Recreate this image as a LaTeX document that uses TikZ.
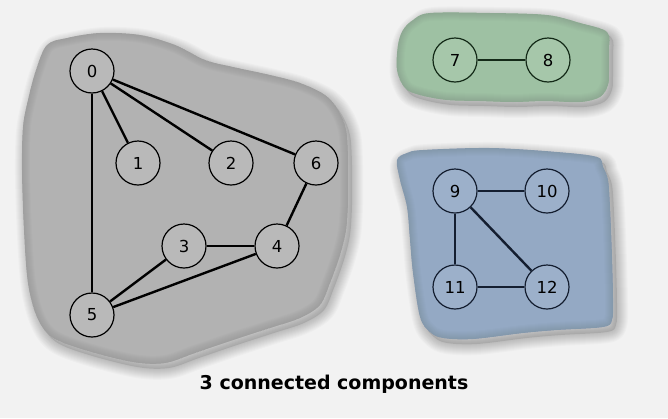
\documentclass[tikz,border=0pt]{standalone}
\usepackage{fontspec}
\setmainfont{DejaVu Sans}

\definecolor{bgc}{HTML}{F2F2F2}
\definecolor{grayblob}{HTML}{B2B2B2}
\definecolor{grayvtx}{HTML}{B9B9B9}
\definecolor{greenblob}{HTML}{9EC1A3}
\definecolor{greenvtx}{HTML}{A6C7AA}
\definecolor{greenline}{HTML}{142A18}
\definecolor{blueblob}{HTML}{94A9C4}
\definecolor{bluevtx}{HTML}{9CB0CA}
\definecolor{blueline}{HTML}{141E30}

\tikzset{
  grayshape/.style={insert path={plot[smooth cycle, tension=0.55] coordinates {
    (47,45) (67,38) (100,33) (140,35) (175,45) (205,60) (233,67) (270,75)
    (300,83) (325,95) (338,110) (346,130) (348,160) (348,200) (346,230)
    (340,255) (330,283) (320,305) (300,318) (270,328) (233,340) (195,353)
    (165,363) (133,362) (85,350) (52,337) (37,317) (28,283) (24,230)
    (22,170) (23,127) (28,100) (36,70)}}},
  greenshape/.style={insert path={plot[smooth cycle, tension=0.55] coordinates {
    (403,30) (413,20) (430,13) (490,13) (547,15) (580,23) (607,32)
    (609,50) (609,70) (608,85) (600,97) (580,102) (545,101) (513,102)
    (480,101) (447,100) (420,95) (405,88) (397,70) (398,45)}}},
  blueshape/.style={insert path={plot[smooth cycle, tension=0.55] coordinates {
    (397,160) (407,153) (423,150) (490,148) (557,152) (597,157) (603,167)
    (608,180) (610,207) (612,257) (613,300) (612,320) (603,327) (557,330)
    (523,333) (473,339) (443,338) (430,332) (420,317) (413,273) (410,240)
    (407,207) (400,180)}}},
  vtx/.style={circle, draw, line width=1.2pt, minimum size=44pt, inner sep=0pt,
      font=\fontsize{16.5}{16.5}\selectfont},
  edge/.style={line width=2.4pt},
}

% soft drop shadow under a region, then the region with a faint darker inner rim
\newcommand{\regionfill}[2]{%
  \begin{scope}[shift={(4,5)}]
    \foreach \w in {22,20,...,2}
      \draw[black, opacity=0.02, line width=\w pt, line join=round] [#1];
    \fill[black, opacity=0.1] [#1];
  \end{scope}
  \fill[#2] [#1];
  \begin{scope}
    \clip [#1];
    \foreach \w in {16,14,...,2}
      \draw[black, opacity=0.01, line width=\w pt, line join=round] [#1];
  \end{scope}%
}

\begin{document}
\begin{tikzpicture}[x=1pt, y=-1pt]
  % canvas
  \fill[bgc] (0,0) rectangle (668,418);
  \useasboundingbox (0,0) rectangle (668,418);

  % component regions
  \regionfill{grayshape}{grayblob}
  \regionfill{greenshape}{greenblob}
  \regionfill{blueshape}{blueblob}

  % component 1
  \begin{scope}[every node/.append style={vtx, fill=grayvtx}]
    \node (n0) at (92,71)   {0};
    \node (n1) at (138,163) {1};
    \node (n2) at (231,163) {2};
    \node (n6) at (316,163) {6};
    \node (n3) at (184,246) {3};
    \node (n4) at (277,246) {4};
    \node (n5) at (92,315)  {5};
  \end{scope}
  \draw[edge] (n0) -- (n1);
  \draw[edge] (n0) -- (n2);
  \draw[edge] (n0) -- (n6);
  \draw[edge] (n0) -- (n5);
  \draw[edge] (n6) -- (n4);
  \draw[edge] (n3) -- (n4);
  \draw[edge] (n3) -- (n5);
  \draw[edge] (n4) -- (n5);

  % component 2
  \begin{scope}[every node/.append style={vtx, fill=greenvtx, draw=greenline}]
    \node (n7) at (455,60) {7};
    \node (n8) at (548,60) {8};
  \end{scope}
  \draw[edge, greenline] (n7) -- (n8);

  % component 3
  \begin{scope}[every node/.append style={vtx, fill=bluevtx, draw=blueline}]
    \node (n9)  at (455,191) {9};
    \node (n10) at (547,191) {10};
    \node (n11) at (455,287) {11};
    \node (n12) at (547,287) {12};
  \end{scope}
  \draw[edge, blueline] (n9) -- (n10);
  \draw[edge, blueline] (n9) -- (n11);
  \draw[edge, blueline] (n9) -- (n12);
  \draw[edge, blueline] (n11) -- (n12);

  % caption
  \node[font=\bfseries\fontsize{19}{19}\selectfont] (cap) at (334,384)
    {3 connected components};
\end{tikzpicture}
\end{document}
